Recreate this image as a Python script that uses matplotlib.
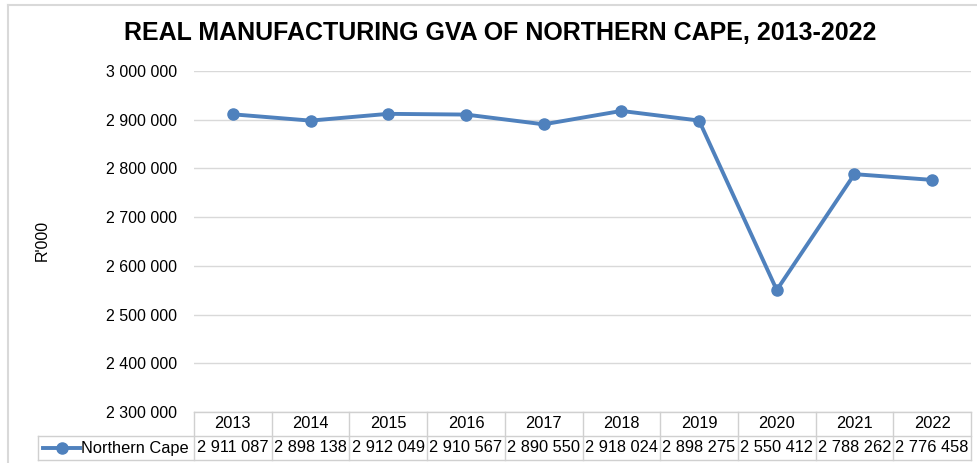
import matplotlib.pyplot as plt
from matplotlib.lines import Line2D
from matplotlib.ticker import FuncFormatter
import matplotlib.transforms as mtransforms

# Data
years = ["2013", "2014", "2015", "2016", "2017", "2018", "2019", "2020", "2021", "2022"]
gva = [2911087, 2898138, 2912049, 2910567, 2890550, 2918024, 2898275, 2550412, 2788262, 2776458]
series_name = "Northern Cape"
title = "REAL MANUFACTURING GVA OF NORTHERN CAPE, 2013-2022"

plt.rcParams["font.family"] = ["Liberation Sans", "DejaVu Sans"]

W, H = 978, 463
fig = plt.figure(figsize=(W / 100, H / 100), dpi=100)

def fx(px):
    return px / W

def fy(py):
    return 1 - py / H

left, right, top, bottom = 194, 971, 71, 412
ax = fig.add_axes([fx(left), fy(bottom), fx(right - left), (bottom - top) / H])

blue = "#4F81BD"
grid_c = "#D9D9D9"
x = list(range(len(years)))

ax.plot(x, gva, color=blue, lw=2.8, marker="o", ms=8, zorder=3)

ax.set_xlim(-0.5, len(years) - 0.5)
ax.set_ylim(2300000, 3000000)
ax.set_yticks(range(2300000, 3000001, 100000))
ax.yaxis.set_major_formatter(FuncFormatter(lambda v, p: f"{int(v):,}".replace(",", " ")))
ax.tick_params(axis="y", length=0, pad=12, labelsize=11.5)
ax.set_xticks([])
ax.grid(axis="y", color=grid_c, lw=1)
ax.set_axisbelow(True)
for s in ax.spines.values():
    s.set_visible(False)

# axis title
fig.text(fx(42), fy(240), "R'000", rotation=90, ha="center", va="center", fontsize=11.5)

fig.text(0.511, fy(33), title, ha="center", va="center", fontsize=18, fontweight="bold")

# Data table under the axis
tbl_c = "#D0D0D0"
fs_tbl = 11.8
trans = mtransforms.blended_transform_factory(ax.transData, ax.transAxes)
ph = bottom - top
r0, r1, r2 = 0, -24 / ph, -48 / ph
leg_left = (38 - left) / (right - left)
ta = ax.transAxes

def hline(x0, x1, y, tr):
    ax.add_line(Line2D([x0, x1], [y, y], transform=tr, color=tbl_c, lw=1, clip_on=False))

def vline(xv, y0, y1, tr):
    ax.add_line(Line2D([xv, xv], [y0, y1], transform=tr, color=tbl_c, lw=1, clip_on=False))

hline(0, 1, r0, ta)
hline(leg_left, 1, r1, ta)
hline(leg_left, 1, r2, ta)
vline(leg_left, r1, r2, ta)
vline(0, r0, r2, ta)
for i in x:
    vline(i + 0.5, r0, r2, trans)
    ax.text(i, (r0 + r1) / 2, years[i], transform=trans, ha="center", va="center", fontsize=fs_tbl)
    ax.text(i, (r1 + r2) / 2, f"{gva[i]:,}".replace(",", " "), transform=trans,
            ha="center", va="center", fontsize=fs_tbl)

# legend key in table
ym = (r1 + r2) / 2
kx0, kx1 = (43 - left) / (right - left), (80 - left) / (right - left)
ax.add_line(Line2D([kx0, kx1], [ym, ym], transform=ta, color=blue, lw=2.8, clip_on=False))
ax.add_line(Line2D([(kx0 + kx1) / 2], [ym], transform=ta, color=blue, marker="o", ms=8, clip_on=False))
ax.text((81 - left) / (right - left), ym, series_name, transform=ta, ha="left", va="center", fontsize=fs_tbl)

# chart border
fig.add_artist(Line2D([fx(8), 1], [fy(5), fy(5)], color=grid_c, lw=1.5))
fig.add_artist(Line2D([fx(8), fx(8)], [fy(5), 0], color=grid_c, lw=1.5))

fig.savefig("out.png", dpi=100)
